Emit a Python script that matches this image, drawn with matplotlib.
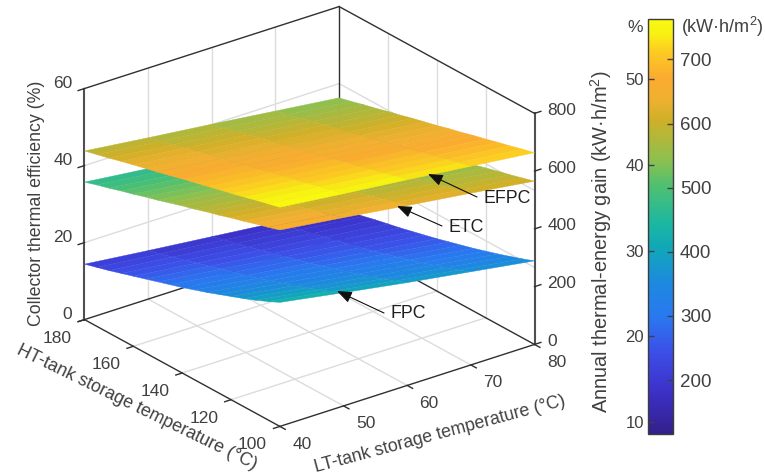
import numpy as np
import matplotlib
matplotlib.use('Agg')
import matplotlib.pyplot as plt
from matplotlib.cm import ScalarMappable
from matplotlib.colors import LinearSegmentedColormap, Normalize
from mpl_toolkits.mplot3d import proj3d

plt.rcParams['font.family'] = ['Liberation Sans', 'DejaVu Sans']
plt.rcParams['mathtext.fontset'] = 'custom'
plt.rcParams['mathtext.rm'] = 'Liberation Sans'
plt.rcParams['mathtext.default'] = 'regular'

TXT = '#404040'

lt_temps = [40, 50, 60, 70, 80]
ht_temps = [100, 105, 110, 115, 120, 125, 130, 135, 140, 145, 150, 155, 160, 165, 170, 175, 180]

# rows follow ht_temps, columns follow lt_temps, efficiency in %
efpc = [
    [56.9, 55.1, 53.4, 51.6, 49.8],
    [56.1, 54.3, 52.6, 50.8, 49.0],
    [55.3, 53.5, 51.7, 49.9, 48.1],
    [54.4, 52.6, 50.9, 49.1, 47.3],
    [53.6, 51.8, 50.0, 48.2, 46.4],
    [52.8, 51.0, 49.2, 47.4, 45.6],
    [52.0, 50.2, 48.4, 46.5, 44.7],
    [51.2, 49.4, 47.5, 45.7, 43.9],
    [50.4, 48.6, 46.7, 44.8, 43.0],
    [49.5, 47.7, 45.9, 44.0, 42.2],
    [48.7, 46.9, 45.0, 43.2, 41.4],
    [47.9, 46.0, 44.2, 42.3, 40.5],
    [47.1, 45.2, 43.4, 41.5, 39.7],
    [46.3, 44.4, 42.6, 40.7, 38.8],
    [45.4, 43.5, 41.7, 39.8, 38.0],
    [44.6, 42.7, 40.9, 39.0, 37.1],
    [43.8, 41.9, 40.1, 38.2, 36.3],
]
etc = [
    [51.0, 48.9, 46.7, 44.6, 42.4],
    [50.0, 47.9, 45.8, 43.6, 41.5],
    [49.1, 47.0, 44.9, 42.7, 40.6],
    [48.1, 46.0, 44.0, 41.9, 39.8],
    [47.2, 45.1, 43.1, 41.0, 38.9],
    [46.2, 44.1, 42.1, 40.0, 38.0],
    [45.3, 43.2, 41.2, 39.1, 37.1],
    [44.3, 42.2, 40.3, 38.2, 36.2],
    [43.4, 41.4, 39.4, 37.4, 35.4],
    [42.4, 40.4, 38.5, 36.5, 34.5],
    [41.4, 39.4, 37.5, 35.5, 33.6],
    [40.5, 38.5, 36.6, 34.6, 32.7],
    [39.5, 37.6, 35.7, 33.7, 31.8],
    [38.6, 36.7, 34.8, 32.9, 31.0],
    [37.6, 35.7, 33.9, 32.0, 30.1],
    [36.7, 34.8, 33.0, 31.1, 29.2],
    [35.7, 33.9, 32.0, 30.2, 28.3],
]
fpc = [
    [32.2, 29.4, 26.7, 24.2, 21.7],
    [30.7, 28.0, 25.4, 22.9, 20.5],
    [29.3, 26.7, 24.2, 21.8, 19.4],
    [28.0, 25.5, 23.1, 20.7, 18.3],
    [26.8, 24.3, 22.0, 19.6, 17.3],
    [25.6, 23.2, 20.9, 18.6, 16.3],
    [24.4, 22.1, 19.9, 17.6, 15.4],
    [23.3, 21.0, 18.9, 16.7, 14.5],
    [22.2, 20.0, 17.9, 15.7, 13.6],
    [21.2, 19.1, 17.0, 14.9, 12.8],
    [20.2, 18.2, 16.1, 14.1, 12.0],
    [19.2, 17.2, 15.2, 13.2, 11.2],
    [18.2, 16.3, 14.3, 12.4, 10.5],
    [17.2, 15.3, 13.5, 11.6, 9.8],
    [16.2, 14.4, 12.6, 10.8, 9.0],
    [15.3, 13.5, 11.8, 10.0, 8.3],
    [14.4, 12.6, 10.9, 9.2, 7.5],
]

lt_ticks = [40, 50, 60, 70, 80]
ht_ticks = [100, 120, 140, 160, 180]
eff_ticks = [0, 20, 40, 60]
gain_ticks = [0, 200, 400, 600, 800]
bar_eff_ticks = [10, 20, 30, 40, 50]
bar_gain_ticks = [200, 300, 400, 500, 600, 700]
eff_range = [8.6, 57.0]
gain_range = [116, 763]

cmap = LinearSegmentedColormap.from_list('eff', [
    (0.00, '#33208a'), (0.10, '#3c30c8'), (0.20, '#3c50e8'), (0.28, '#2a78f0'),
    (0.36, '#1e88e0'), (0.45, '#10a8b8'), (0.51, '#1cb8a0'), (0.60, '#50c070'),
    (0.66, '#8cc050'), (0.76, '#d0b028'), (0.81, '#f0b030'), (0.86, '#fbab30'),
    (0.93, '#fcd020'), (0.96, '#f8ee14'), (1.00, '#f8fa10')])
norm = Normalize(*eff_range)

fig = plt.figure(figsize=(7.65, 4.76), dpi=100)
W, H = 765.0, 476.0
ax = fig.add_axes([1.4 / W, -48.6 / H, 600 / W, 600 / H], projection='3d')
ax.set_proj_type('ortho')
ax.view_init(elev=24.8, azim=-127.5)
ax.set_box_aspect((1, 1, 0.793), zoom=0.842)
ax.set_xlim(40, 80)
ax.set_ylim(100, 180)
ax.set_zlim(0, 60)
ax.set_axis_off()
ax.computed_zorder = False

GRID = dict(color='#dcdcdc', lw=1.0, zorder=1)
BOX = dict(color='#303030', lw=1.0, zorder=2)

# floor and back wall grid
for lt in lt_ticks[1:-1]:
    ax.plot([lt, lt], [100, 180], [0, 0], **GRID)
    ax.plot([lt, lt], [180, 180], [0, 60], **GRID)
for ht in ht_ticks[1:-1]:
    ax.plot([40, 80], [ht, ht], [0, 0], **GRID)
    ax.plot([80, 80], [ht, ht], [0, 60], **GRID)
for e in eff_ticks[1:-1]:
    ax.plot([40, 80], [180, 180], [e, e], **GRID)
    ax.plot([80, 80], [100, 180], [e, e], **GRID)

# box edges
ax.plot([40, 80], [180, 180], [0, 0], **BOX)
ax.plot([80, 80], [100, 180], [0, 0], **BOX)
ax.plot([40, 40], [100, 180], [0, 0], **BOX)
ax.plot([40, 80], [100, 100], [0, 0], **BOX)
ax.plot([40, 80], [180, 180], [60, 60], **BOX)
ax.plot([80, 80], [100, 180], [60, 60], **BOX)
ax.plot([80, 80], [180, 180], [0, 60], **BOX)
ax.plot([40, 40], [180, 180], [0, 60], color='#505050', lw=1.5, zorder=2)
ax.plot([80, 80], [100, 100], [0, 60], color='#505050', lw=1.5, zorder=2)

X, Y = np.meshgrid(lt_temps, ht_temps)
for k, (surf, col_shift) in enumerate([(fpc, 3.0), (etc, 1.0), (efpc, 2.0)]):
    Z = np.array(surf)
    cell = (Z[:-1, :-1] + Z[1:, :-1] + Z[:-1, 1:] + Z[1:, 1:]) / 4
    # the reference bands follow the HT rows, so soften the colour change along a row
    row = cell.mean(axis=1, keepdims=True)
    fc = cmap(norm(row + 0.6 * (cell - row) + col_shift))
    poly = ax.plot_surface(X, Y, Z, facecolors=fc, rstride=1, cstride=1,
                           linewidth=0.3, shade=False, zorder=3 + k)
    poly.set_edgecolor(fc.reshape(-1, 4))


def data_text(x, y, z, s, **kw):
    # text at a data position, placed in the 2D plane of the 3D axes
    x2, y2, _ = proj3d.proj_transform(x, y, z, ax.get_proj())
    ax.text2D(x2, y2, s, transform=ax.transData, color=TXT, fontsize=12.5, zorder=10, **kw)


# ticks and tick labels
TICK = dict(color='#303030', lw=1.0, zorder=2)
for lt in lt_ticks:
    ax.plot([lt, lt], [100, 97.8], [0, 0], **TICK)
    data_text(lt, 91, -1.5, str(lt), ha='center', va='center')
for ht in ht_ticks:
    ax.plot([40, 39], [ht, ht], [0, 0], **TICK)
    data_text(35.7, ht, -2.5, str(ht), ha='center', va='center')
for e in eff_ticks:
    ax.plot([40, 39], [180, 180], [e, e], **TICK)
    data_text(38.1, 180, e + 2.35, str(e), ha='right', va='center')
for g in gain_ticks:
    e = g * 60.0 / 800
    ax.plot([80, 81], [100, 100], [e, e], **TICK)
    data_text(82, 100, e - 0.25, str(g), ha='left', va='center')


def px_text(x, y, s, **kw):
    kw.setdefault('color', TXT)
    kw.setdefault('fontsize', 12.8)
    kw.setdefault('ha', 'center')
    kw.setdefault('va', 'center')
    fig.text(x / W, 1 - y / H, s, **kw)


px_text(36.5, 203.5, 'Collector thermal efficiency (%)', rotation=90)
px_text(137, 407, 'HT-tank storage temperature (°C)', rotation=-26, rotation_mode='anchor', fontsize=12.9)
px_text(440, 434, 'LT-tank storage temperature (°C)', rotation=15, rotation_mode='anchor')
px_text(601, 242, 'Annual thermal-energy gain (kW·h/m$^2$)', rotation=90, fontsize=14.4)

# curve labels with arrows
for name, tip, tail, pos in [('EFPC', (428, 174), (477, 197), (507.5, 198)),
                             ('ETC', (397, 206), (442, 226), (466.5, 227)),
                             ('FPC', (337, 291), (384, 313), (408.5, 314))]:
    ax.annotate('', xy=(tip[0], H - tip[1]), xytext=(tail[0], H - tail[1]),
                xycoords='figure pixels', textcoords='figure pixels', zorder=12,
                arrowprops=dict(arrowstyle='-|>,head_length=0.9,head_width=0.35',
                                color='#101010', lw=0.8, shrinkA=0, shrinkB=0))
    px_text(pos[0], pos[1], name, color='#202020')

# colour bar with its two scales
bar_pos = [648 / W, 1 - 434 / H, 25 / W, 415 / H]
cax = fig.add_axes(bar_pos)
cb = fig.colorbar(ScalarMappable(norm=norm, cmap=cmap), cax=cax)
cb.set_ticks(bar_eff_ticks)
cb.ax.yaxis.set_ticks_position('left')
cb.ax.tick_params(direction='in', length=4, width=1, colors=TXT, labelsize=12, pad=3)
cb.outline.set_edgecolor('#3c3c3c')
cb.outline.set_linewidth(1)

gax = fig.add_axes(bar_pos, facecolor='none')
gax.set_ylim(*gain_range)
gax.set_xticks([])
gax.yaxis.tick_right()
gax.set_yticks(bar_gain_ticks)
gax.tick_params(direction='in', length=4, width=1, colors=TXT, labelsize=13.5, pad=5)
for sp in gax.spines.values():
    sp.set_visible(False)

px_text(635, 27, '%', fontsize=12.5)
px_text(681, 27, '(kW·h/m$^2$)', ha='left', fontsize=13)

fig.savefig('out.png', dpi=100)
